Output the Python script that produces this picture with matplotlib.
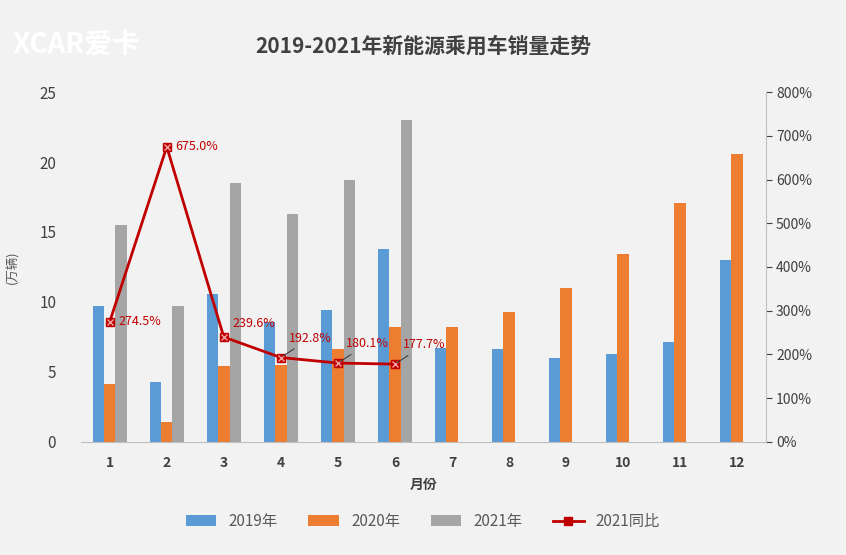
import matplotlib.pyplot as plt
import numpy as np
from matplotlib.ticker import FuncFormatter
from matplotlib import font_manager as fm
import glob

files = [f for f in glob.glob('/usr/share/fonts/**/*', recursive=True) if 'CJK' in f]
fam = 'Noto Sans CJK SC'
for f in files:
    try:
        fm.fontManager.addfont(f)
    except Exception:
        pass
names = {f.name for f in fm.fontManager.ttflist}
for cand in ['Noto Sans CJK SC', 'Noto Sans CJK JP', 'Noto Sans SC', 'Noto Sans CJK']:
    if cand in names:
        fam = cand
        break
plt.rcParams['font.family'] = [fam, 'DejaVu Sans']

months = ['1','2','3','4','5','6','7','8','9','10','11','12']
s2019 = [9.7, 4.3, 10.6, 8.6, 9.4, 13.8, 6.7, 6.6, 6.0, 6.3, 7.1, 13.0]
s2020 = [4.1, 1.4, 5.4, 5.5, 6.6, 8.2, 8.2, 9.3, 11.0, 13.4, 17.1, 20.6]
s2021 = [15.5, 9.7, 18.5, 16.3, 18.7, 23.0]
yoy = [274.5, 675.0, 239.6, 192.8, 180.1, 177.7]

fig = plt.figure(figsize=(8.46, 5.55), dpi=100, facecolor='#f2f2f2')
ax = fig.add_axes([0.096, 0.204, 0.809, 0.63], facecolor='#f2f2f2')
x = np.arange(len(months))
w = 0.2
b1 = ax.bar(x - w, s2019, w, color='#5b9bd5', label='2019年')
b2 = ax.bar(x, s2020, w, color='#ed7d31', label='2020年')
b3 = ax.bar(x[:len(s2021)] + w, s2021, w, color='#a5a5a5', label='2021年')
ax.set_ylim(0, 25)
ax.set_xlim(-0.5, 11.5)
ax.set_yticks(range(0, 26, 5))
ax.set_xticks(x)
ax.set_xticklabels(months, fontweight='bold', color='#404040')
ax.set_xlabel('月份', fontweight='bold', color='#404040', fontsize=10, labelpad=6)
ax.set_ylabel('(万辆)', color='#595959', fontsize=9, labelpad=14)
ax.tick_params(axis='x', length=0, labelsize=10, colors='#404040', pad=10)
ax.tick_params(axis='y', length=0, labelsize=11, colors='#404040', pad=18)
for s in ['top', 'right', 'left']:
    ax.spines[s].set_visible(False)
ax.spines['bottom'].set_color('#bfbfbf')

ax2 = ax.twinx()
ax2.set_ylim(0, 800)
ax2.set_yticks(range(0, 801, 100))
ax2.yaxis.set_major_formatter(FuncFormatter(lambda v, p: f'{int(v)}%'))
ax2.tick_params(length=4, labelsize=10, colors='#404040', direction='out')
for s in ['top', 'left', 'bottom']:
    ax2.spines[s].set_visible(False)
ax2.spines['right'].set_color('#bfbfbf')
xl = x[:len(yoy)]
ln, = ax2.plot(xl, yoy, color='#c00000', lw=2, marker='s', ms=6,
               mfc='#c00000', label='2021同比')
ax2.plot(xl, yoy, ls='none', marker='x', ms=5, color='#f2a0a0', mew=1)
offs = [(6, 0), (6, 0), (6, 10), (6, 14), (6, 14), (6, 14)]
for i, (xi, v, (dx, dy)) in enumerate(zip(xl, yoy, offs)):
    arrow = dict(arrowstyle='-', color='#404040', lw=0.8) if i >= 3 else None
    ax2.annotate(f'{v:.1f}%', (xi, v), xytext=(dx, dy), textcoords='offset points',
                 color='#c00000', fontsize=9, va='center', ha='left', arrowprops=arrow)

fig.text(0.5, 0.905, '2019-2021年新能源乘用车销量走势', ha='center', fontsize=15,
         fontweight='bold', color='#404040')
fig.text(0.015, 0.905, 'XCAR爱卡', fontsize=20, fontweight='bold', color='white',
         style='italic')
fig.legend(handles=[b1, b2, b3, ln], loc='lower center', ncol=4, frameon=False,
           fontsize=11, bbox_to_anchor=(0.5, 0.02), labelcolor='#595959')
fig.savefig('out.png', dpi=100, facecolor=fig.get_facecolor())
